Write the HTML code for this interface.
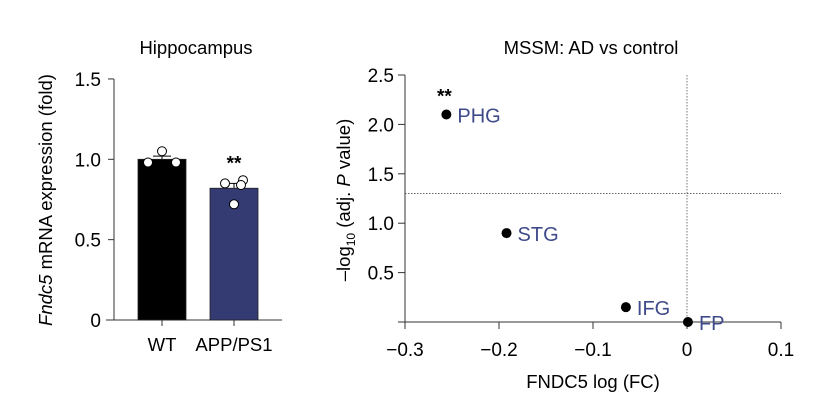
<!DOCTYPE html>
<html><head><meta charset="utf-8"><style>
body{margin:0;background:#fff;width:831px;height:410px;overflow:hidden;font-family:"Liberation Sans",sans-serif}
svg text{font-family:"Liberation Sans",sans-serif}
</style></head><body>
<svg width="831" height="410" id="fig">
<text x="196" y="54" font-size="18.5" text-anchor="middle">Hippocampus</text>
<text x="591" y="54" font-size="18.5" text-anchor="middle">MSSM: AD vs control</text>
<text transform="translate(52,200) rotate(-90)" font-size="18.5" text-anchor="middle"><tspan font-style="italic">Fndc5</tspan> mRNA expression (fold)</text>
<text transform="translate(350,200) rotate(-90)" font-size="18.5" text-anchor="middle">–log<tspan font-size="12" dy="5">10</tspan><tspan dy="-5"> (adj. </tspan><tspan font-style="italic">P</tspan> value)</text>
<text x="593" y="388" font-size="18.5" text-anchor="middle">FNDC5 log (FC)</text>
<g id="left"></g><g id="right"></g>
</svg>
<script>
const barCats=["WT","APP/PS1"];
const barMeans=[1.0,0.82];
const barErr=[0.02,0.03];
const wtDots=[0.98,1.05,0.98];
const appDots=[0.85,0.87,0.84,0.72];
const leftTicks=[0,0.5,1.0,1.5];
const leftTickLabels=["0","0.5","1.0","1.5"];
const regions=["PHG","STG","IFG","FP"];
const fcVals=[-0.256,-0.192,-0.065,0.001];
const pVals=[2.1,0.9,0.15,0.0];
const xTicks=[-0.3,-0.2,-0.1,0,0.1];
const xTickLabels=["−0.3","−0.2","−0.1","0","0.1"];
const yTicks=[0.5,1.0,1.5,2.0,2.5];
const yTickLabels=["0.5","1.0","1.5","2.0","2.5"];
const threshold=1.3;
const NS="http://www.w3.org/2000/svg";
function mk(p,t,a,txt){const e=document.createElementNS(NS,t);for(const k in a)e.setAttribute(k,a[k]);if(txt!=null)e.textContent=txt;p.appendChild(e);return e;}
const L=document.getElementById('left');
const ly=v=>320-v*160.7;
const bx=i=>162+i*72;
let e=mk(L,'line',{x1:114,y1:ly(1.5),x2:114,y2:320,stroke:'#333','stroke-width':1});

e=mk(L,'line',{x1:106,y1:320,x2:282,y2:320,stroke:'#333','stroke-width':1});

leftTicks.forEach((t,i)=>{mk(L,'line',{x1:108,y1:ly(t),x2:114,y2:ly(t),stroke:'#333'});
e=mk(L,'text',{x:101,y:ly(t)+7,'font-size':19,'text-anchor':'end'},leftTickLabels[i]);
});
const colors=['#000','#343b72'];
barCats.forEach((c,i)=>{
 mk(L,'line',{x1:bx(i),y1:320,x2:bx(i),y2:326,stroke:'#333'});
 e=mk(L,'text',{x:bx(i),y:351,'font-size':18.5,'text-anchor':'middle'},c);
 
 mk(L,'line',{x1:bx(i),y1:ly(barMeans[i]+barErr[i]),x2:bx(i),y2:ly(barMeans[i]),stroke:'#000'});
 mk(L,'line',{x1:bx(i)-9,y1:ly(barMeans[i]+barErr[i]),x2:bx(i)+9,y2:ly(barMeans[i]+barErr[i]),stroke:'#000'});
 e=mk(L,'rect',{x:bx(i)-24,y:ly(barMeans[i]),width:48,height:320-ly(barMeans[i]),fill:colors[i],stroke:'#222','stroke-width':0.8});
 
});
const wtOff=[-14,0,14],appOff=[-9,9,7,0];
wtDots.forEach((v,i)=>{e=mk(L,'circle',{cx:bx(0)+wtOff[i],cy:ly(v),r:4.5,fill:'#fff',stroke:'#000','stroke-width':1});
});
appDots.forEach((v,i)=>{e=mk(L,'circle',{cx:bx(1)+appOff[i],cy:ly(v),r:4.5,fill:'#fff',stroke:'#000','stroke-width':1});
});
e=mk(L,'text',{x:bx(1),y:ly(1.0)+10,'font-size':19,'text-anchor':'middle','font-weight':'bold'},'**');

const R=document.getElementById('right');
const rx=v=>405+(v+0.3)*940;
const ry=v=>322-v*98.8;
e=mk(R,'line',{x1:405,y1:ry(2.5),x2:405,y2:322,stroke:'#333'});

e=mk(R,'line',{x1:398,y1:322,x2:rx(0.1),y2:322,stroke:'#333'});

xTicks.forEach((t,i)=>{mk(R,'line',{x1:rx(t),y1:322,x2:rx(t),y2:329,stroke:'#333'});
e=mk(R,'text',{x:rx(t),y:356,'font-size':19,'text-anchor':'middle'},xTickLabels[i]);
});
yTicks.forEach((t,i)=>{mk(R,'line',{x1:398,y1:ry(t),x2:405,y2:ry(t),stroke:'#333'});
e=mk(R,'text',{x:394,y:ry(t)+7,'font-size':19,'text-anchor':'end'},yTickLabels[i]);
});
e=mk(R,'line',{x1:405,y1:ry(threshold),x2:rx(0.1),y2:ry(threshold),stroke:'#555','stroke-dasharray':'1.5,1.5','stroke-width':0.8});

e=mk(R,'line',{x1:rx(0),y1:ry(2.5),x2:rx(0),y2:322,stroke:'#555','stroke-dasharray':'1.5,1.5','stroke-width':0.8});

regions.forEach((r,i)=>{
 e=mk(R,'circle',{cx:rx(fcVals[i]),cy:ry(pVals[i]),r:5,fill:'#000'});
 
 e=mk(R,'text',{x:rx(fcVals[i])+11,y:ry(pVals[i])+8,'font-size':20,fill:'#3e4a8a'},r);
 
});
e=mk(R,'text',{x:rx(fcVals[0])-2,y:ry(pVals[0])-12,'font-size':19,'text-anchor':'middle','font-weight':'bold'},'**');

</script>
</body></html>
